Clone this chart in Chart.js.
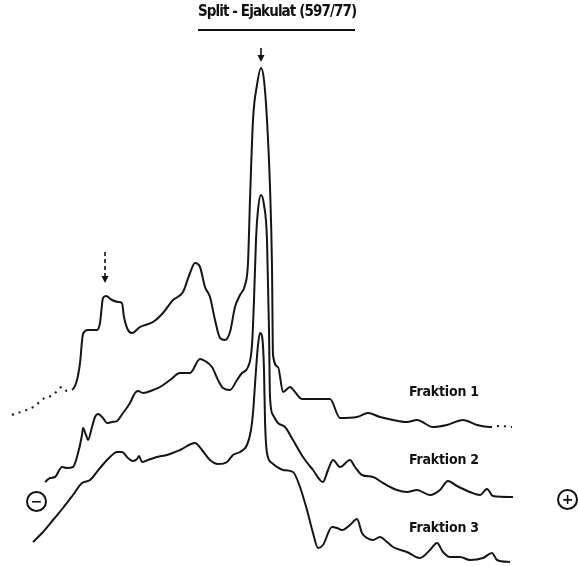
<!DOCTYPE html>
<html lang="de">
<head>
  <meta charset="UTF-8">
  <title>Split - Ejakulat (597/77)</title>
  <script src="https://cdnjs.cloudflare.com/ajax/libs/Chart.js/4.4.1/chart.umd.min.js"></script>
  <style>
    html, body { margin: 0; padding: 0; background: #fff; }
    .wrap { position: relative; width: 578px; height: 566px; }
    canvas { position: absolute; left: 0; top: 0; }
    .lbl {
      position: absolute;
      font-family: 'DejaVu Sans Condensed', 'Liberation Sans Narrow', sans-serif;
      font-weight: bold;
      color: #111;
      white-space: nowrap;
      line-height: 1;
    }
    .title { left: 198px; top: 4px; font-size: 15px; letter-spacing: -0.9px; }
    .rule { position: absolute; left: 198px; top: 29px; width: 157px; height: 2px; background: #111; }
    .frak { font-size: 14px; letter-spacing: -0.2px; }
    .pol {
      position: absolute; width: 17px; height: 17px; border: 2px solid #111; border-radius: 50%;
      font-family: 'DejaVu Sans', sans-serif; font-weight: bold; font-size: 14px;
      text-align: center; line-height: 17px; color: #111;
    }
  </style>
</head>
<body>
  <div class="wrap">
    <canvas id="trace" width="578" height="566"></canvas>
    <div class="lbl title">Split - Ejakulat (597/77)</div>
    <div class="rule"></div>
    <div class="lbl frak" style="left:409px; top:384px;">Fraktion 1</div>
    <div class="lbl frak" style="left:409px; top:452px;">Fraktion 2</div>
    <div class="lbl frak" style="left:409px; top:520px;">Fraktion 3</div>
    <div class="pol" style="left:26px; top:491px;">−</div>
    <div class="pol" style="left:557px; top:489px;">+</div>
  </div>

  <script>
    const fraktion1X = [12, 35, 43, 53, 62, 67, 72, 77, 80, 83, 88, 97, 100, 103, 106, 112, 118, 122, 124, 128, 132, 140, 153, 163, 173, 183, 190, 195, 200, 205, 210, 215, 220, 225, 230, 235, 240, 245, 248, 250, 253, 257, 261, 264, 267, 270, 272, 273, 278, 283, 290, 295, 302, 330, 340, 357, 368, 380, 393, 407, 417, 433, 447, 463, 477, 490, 500, 512];
    const fraktion1Y = [151, 160, 167, 171, 179, 175, 176, 186, 203, 232, 236, 236, 243, 268, 270, 266, 264, 263, 249, 236, 233, 239, 244, 253, 266, 274, 293, 303, 299, 279, 269, 246, 228, 226, 234, 259, 271, 281, 303, 366, 446, 481, 498, 486, 446, 379, 299, 211, 199, 174, 179, 174, 167, 167, 148, 149, 153, 149, 146, 144, 146, 139, 141, 146, 141, 139, 140, 139];

    const fraktion2X = [45, 50, 55, 62, 67, 73, 77, 82, 83, 86, 88, 92, 95, 98, 103, 107, 112, 117, 123, 130, 135, 138, 143, 153, 160, 170, 180, 190, 200, 205, 212, 218, 223, 230, 237, 242, 248, 252, 254, 256, 258, 261, 264, 267, 269, 270, 273, 278, 285, 293, 303, 313, 323, 328, 333, 340, 350, 355, 362, 373, 383, 397, 407, 417, 430, 440, 448, 457, 470, 480, 487, 493, 513];
    const fraktion2Y = [84, 88, 89, 99, 98, 99, 109, 131, 138, 131, 126, 139, 149, 152, 148, 143, 144, 145, 153, 163, 173, 175, 173, 176, 179, 186, 193, 193, 207, 205, 199, 186, 178, 176, 186, 193, 199, 221, 266, 326, 356, 371, 361, 326, 236, 169, 151, 143, 139, 126, 109, 96, 84, 96, 106, 99, 106, 99, 91, 89, 83, 76, 74, 76, 71, 76, 85, 80, 74, 71, 77, 70, 69];

    const fraktion3X = [33, 43, 53, 63, 73, 82, 90, 100, 110, 117, 122, 128, 133, 137, 139, 142, 148, 157, 167, 180, 195, 202, 210, 218, 227, 233, 240, 247, 251, 253, 256, 258, 260, 262, 264, 265, 267, 272, 277, 283, 293, 300, 307, 313, 318, 323, 332, 337, 342, 350, 357, 362, 367, 373, 380, 387, 393, 407, 420, 430, 437, 443, 450, 460, 470, 483, 492, 497, 510];
    const fraktion3Y = [24, 34, 46, 58, 71, 83, 86, 98, 109, 114, 114, 108, 105, 107, 110, 104, 106, 109, 111, 116, 123, 116, 106, 102, 104, 111, 114, 121, 136, 153, 196, 221, 233, 230, 196, 146, 113, 103, 99, 96, 94, 79, 56, 33, 18, 21, 39, 38, 36, 41, 47, 33, 28, 26, 29, 24, 19, 14, 8, 16, 23, 14, 9, 9, 6, 8, 13, 6, 4];

    // Pfeile: Position, Spitze, Ende, gestrichelt?
    const pfeilX = [261, 105];
    const pfeilSpitze = [504, 283];
    const pfeilEnde = [518, 314];
    const pfeilGestrichelt = [false, true];

    function toPoints(xs, ys) {
      return xs.map((x, i) => ({ x: x, y: ys[i] }));
    }

    // gestrichelte Enden der Fraktion 1 (schwacher Druck)
    function dashedEnds(ctx) {
      const x0 = ctx.p0.parsed.x;
      return (x0 < 72 || x0 >= 490) ? [2, 5] : undefined;
    }

    const arrowPlugin = {
      id: 'pfeile',
      afterDatasetsDraw(chart) {
        const c = chart.ctx;
        const sx = chart.scales.x, sy = chart.scales.y;
        c.save();
        c.strokeStyle = '#111';
        c.fillStyle = '#111';
        c.lineWidth = 1.6;
        pfeilX.forEach((x, i) => {
          const px = sx.getPixelForValue(x);
          const tip = sy.getPixelForValue(pfeilSpitze[i]);
          const tail = sy.getPixelForValue(pfeilEnde[i]);
          c.setLineDash(pfeilGestrichelt[i] ? [4, 3] : []);
          c.beginPath();
          c.moveTo(px, tail);
          c.lineTo(px, tip - 6);
          c.stroke();
          c.setLineDash([]);
          c.beginPath();
          c.moveTo(px - 3.5, tip - 7);
          c.lineTo(px + 3.5, tip - 7);
          c.lineTo(px, tip);
          c.closePath();
          c.fill();
        });
        c.restore();
      }
    };

    const lineStyle = {
      borderColor: '#151515',
      borderWidth: 2,
      pointRadius: 0,
      cubicInterpolationMode: 'monotone',
      fill: false
    };

    new Chart(document.getElementById('trace'), {
      type: 'line',
      data: {
        datasets: [
          Object.assign({ label: 'Fraktion 1', data: toPoints(fraktion1X, fraktion1Y), segment: { borderDash: dashedEnds } }, lineStyle),
          Object.assign({ label: 'Fraktion 2', data: toPoints(fraktion2X, fraktion2Y) }, lineStyle),
          Object.assign({ label: 'Fraktion 3', data: toPoints(fraktion3X, fraktion3Y) }, lineStyle)
        ]
      },
      options: {
        responsive: false,
        animation: false,
        layout: { padding: 0 },
        plugins: { legend: { display: false }, tooltip: { enabled: false } },
        scales: {
          x: { type: 'linear', min: 0, max: 578, display: false },
          y: { min: 0, max: 566, display: false }
        }
      },
      plugins: [arrowPlugin]
    });
  </script>
</body>
</html>
